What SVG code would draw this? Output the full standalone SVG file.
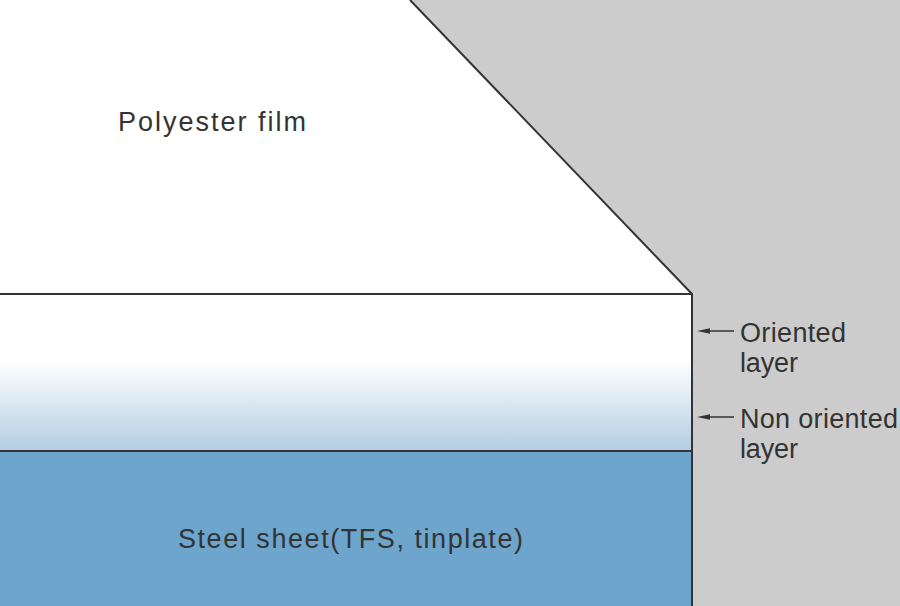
<svg xmlns="http://www.w3.org/2000/svg" width="900" height="606" viewBox="0 0 900 606">
<defs>
<linearGradient id="g" x1="0" y1="294" x2="0" y2="451" gradientUnits="userSpaceOnUse">
<stop offset="0" stop-color="#ffffff"/>
<stop offset="0.42" stop-color="#ffffff"/>
<stop offset="1" stop-color="#b3cde2"/>
</linearGradient>
<style>
.t{font-family:"Liberation Sans",Arial,sans-serif;font-size:27px;fill:#333}
.ln{stroke:#333;stroke-width:2;fill:none}
.ar{stroke:#333;stroke-width:1.5}
.ah{fill:#333}
</style>
</defs>
<rect width="900" height="606" fill="#cccccc"/>
<g id="film">
<polygon points="0,0 410,0 692,294 0,294" fill="#ffffff"/>
<text class="t" x="118" y="131" textLength="188" lengthAdjust="spacing">Polyester film</text>
</g>
<g id="layers">
<rect x="0" y="294" width="692" height="157" fill="url(#g)"/>
</g>
<g id="steel">
<rect x="0" y="451" width="692" height="155" fill="#6ea5cc"/>
<text class="t" x="178" y="548" textLength="345" lengthAdjust="spacing">Steel sheet(TFS, tinplate)</text>
</g>
<g id="outline">
<polyline class="ln" points="410,0 692,294 692,606"/>
<line class="ln" x1="0" y1="294" x2="692" y2="294"/>
<line class="ln" x1="0" y1="451" x2="692" y2="451"/>
</g>
<g id="connectors">
<line class="ar" x1="734" y1="331" x2="706" y2="331"/>
<polygon class="ah" points="697,331 710,328.3 710,333.7"/>
<line class="ar" x1="734" y1="417" x2="706" y2="417"/>
<polygon class="ah" points="697,417 710,414.3 710,419.7"/>
</g>
<g id="labels">
<text class="t" x="740" y="342" textLength="106" lengthAdjust="spacing">Oriented</text>
<text class="t" x="740" y="372" textLength="58" lengthAdjust="spacing">layer</text>
<text class="t" x="740" y="428" textLength="158" lengthAdjust="spacing">Non oriented</text>
<text class="t" x="740" y="458" textLength="58" lengthAdjust="spacing">layer</text>
</g>
</svg>
